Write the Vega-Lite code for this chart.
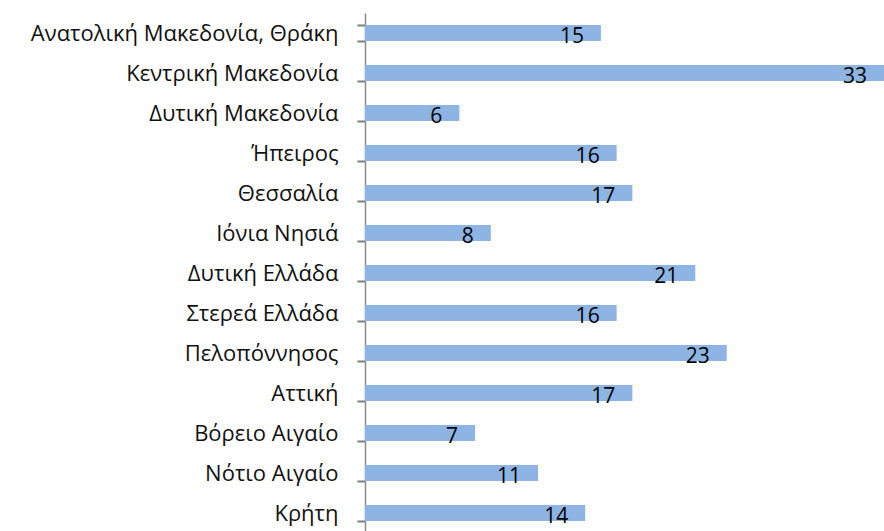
{
  "$schema": "https://vega.github.io/schema/vega-lite/v6.json",
  "autosize": {"type": "none"},
  "padding": {"left": 365, "top": 13, "right": 0, "bottom": 0},
  "width": 519,
  "height": 520,
  "background": "white",
  "config": {"view": {"stroke": null}, "font": "Open Sans"},
  "data": {"values": [
    {"region": "Ανατολική Μακεδονία, Θράκη", "value": 15},
    {"region": "Κεντρική Μακεδονία", "value": 33},
    {"region": "Δυτική Μακεδονία", "value": 6},
    {"region": "Ήπειρος", "value": 16},
    {"region": "Θεσσαλία", "value": 17},
    {"region": "Ιόνια Νησιά", "value": 8},
    {"region": "Δυτική Ελλάδα", "value": 21},
    {"region": "Στερεά Ελλάδα", "value": 16},
    {"region": "Πελοπόννησος", "value": 23},
    {"region": "Αττική", "value": 17},
    {"region": "Βόρειο Αιγαίο", "value": 7},
    {"region": "Νότιο Αιγαίο", "value": 11},
    {"region": "Κρήτη", "value": 14}
  ]},
  "encoding": {
    "y": {"field": "region", "type": "nominal", "sort": null,
      "scale": {"paddingInner": 0.6, "paddingOuter": 0.3},
      "axis": {"title": null, "labelFontSize": 22, "labelColor": "#111", "labelPadding": 19, "labelLimit": 400,
        "ticks": true, "tickBand": "extent", "tickSize": 8, "tickColor": "#7f7f7f", "tickWidth": 2, "tickOpacity": 1,
        "domainColor": "#8c8c8c", "domainWidth": 1.5}},
    "x": {"field": "value", "type": "quantitative",
      "scale": {"domain": [0, 33], "nice": false}, "axis": null}
  },
  "layer": [
    {"mark": {"type": "bar", "color": "#8DB4E2"}},
    {"mark": {"type": "text", "align": "right", "baseline": "alphabetic", "dx": -17, "dy": 10, "fontSize": 21, "color": "#000"},
     "encoding": {"text": {"field": "value", "type": "quantitative"}}}
  ]
}
